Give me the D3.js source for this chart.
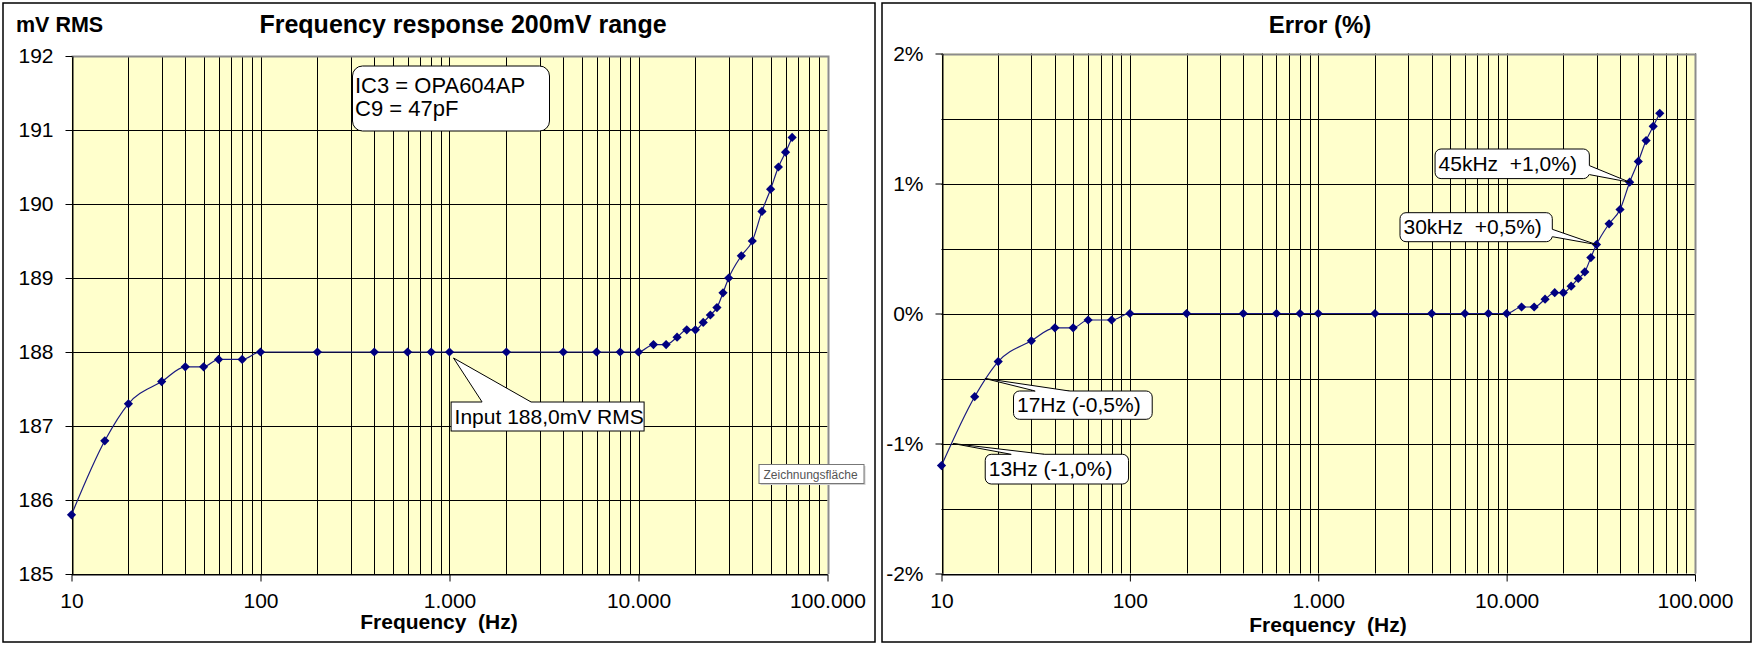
<!DOCTYPE html>
<html><head><meta charset="utf-8">
<script src="https://cdn.jsdelivr.net/npm/d3@7"></script>
<style>
body{margin:0;background:#fff;}
svg{display:block;}
text{font-family:"Liberation Sans",Arial,sans-serif;fill:#000;}
</style></head><body>
<svg id="c" width="1754" height="648"></svg>
<script>
// ---------- DATA ----------
const freqs = [10,15,20,30,40,50,60,80,100,200,400,600,800,1000,2000,4000,6000,8000,10000,
  12000,14000,16000,18000,20000,22000,24000,26000,28000,30000,35000,40000,45000,50000,55000,60000,65000];
const mvRms = [185.8,186.8,187.3,187.6,187.8,187.8,187.9,187.9,
  188.0,188.0,188.0,188.0,188.0,188.0,188.0,188.0,188.0,188.0,188.0,
  188.1,188.1,188.2,188.3,188.3,188.4,188.5,188.6,188.8,
  189.0,189.3,189.5,189.9,190.2,190.5,190.7,190.9];
const errorPct = [-1.17,-0.64,-0.37,-0.21,-0.11,-0.11,-0.05,-0.05,
  0,0,0,0,0,0,0,0,0,0,0,
  0.05,0.05,0.11,0.16,0.16,0.21,0.27,0.32,0.43,
  0.53,0.69,0.80,1.01,1.17,1.33,1.44,1.54];
const xTickValues = [10,100,1000,10000,100000];
const xTickLabels = ["10","100","1.000","10.000","100.000"];
const yLeftTicks = [185,186,187,188,189,190,191,192];
const yLeftLabels = ["185","186","187","188","189","190","191","192"];
const yLeftGrid = [185,186,187,188,189,190,191,192];
const yRightTicks = [-2,-1,0,1,2];
const yRightLabels = ["-2%","-1%","0%","1%","2%"];
const yRightGrid = [-2,-1.5,-1,-0.5,0,0.5,1,1.5,2];
const leftTitle = "Frequency response 200mV range";
const rightTitle = "Error (%)";
const yLeftUnit = "mV RMS";
const xTitle = "Frequency  (Hz)";
const infoLines = ["IC3 = OPA604AP","C9 = 47pF"];

// ---------- LAYOUT ----------
const svg = d3.select("#c");
const crisp = v => Math.round(v) + 0.5;

const xL = d3.scaleLog().domain([10,100000]).range([71.5,827.5]);
const yL = d3.scaleLinear().domain([185,192]).range([574,56]);
const xR = d3.scaleLog().domain([10,100000]).range([941.5,1695]);
const yR = d3.scaleLinear().domain([-2,2]).range([573.5,53.5]);

// panel borders
svg.append("rect").attr("x",3).attr("y",3).attr("width",872).attr("height",639)
  .attr("fill","#fff").attr("stroke","#000").attr("stroke-width",1.5);
svg.append("rect").attr("x",882).attr("y",3).attr("width",869).attr("height",639)
  .attr("fill","#fff").attr("stroke","#000").attr("stroke-width",1.5);

function drawPanel(x, y, yTicks, yLabels, yGrid, values) {
  const g = svg.append("g");
  const [x0,x1] = x.range(), [yb,yt] = y.range();
  g.append("rect").attr("x",x0).attr("y",yt).attr("width",x1-x0).attr("height",yb-yt).attr("fill","#FFFFCC");
  // vertical grid
  g.selectAll(".vg").data(x.ticks()).join("line")
    .attr("x1",d=>crisp(x(d))).attr("x2",d=>crisp(x(d)))
    .attr("y1",yt).attr("y2",yb).attr("stroke","#000").attr("stroke-width",1);
  // horizontal grid
  g.selectAll(".hg").data(yGrid).join("line")
    .attr("x1",x0).attr("x2",x1)
    .attr("y1",d=>crisp(y(d))).attr("y2",d=>crisp(y(d))).attr("stroke","#000").attr("stroke-width",1);
  // plot border (grey)
  g.append("path").attr("d",`M${x0},${crisp(yt)}H${crisp(x1)}V${yb}`)
    .attr("fill","none").attr("stroke","#8c8c8c").attr("stroke-width",2);
  // y axis
  const ya = g.append("g").attr("transform",`translate(${crisp(x0)},0)`)
    .call(d3.axisLeft(y).tickValues(yTicks).tickFormat((d,i)=>yLabels[i]).tickSize(7).tickSizeOuter(0).tickPadding(12));
  // x axis
  const xa = g.append("g").attr("transform",`translate(0,${crisp(yb)})`)
    .call(d3.axisBottom(x).tickValues(xTickValues).tickFormat((d,i)=>xTickLabels[i]).tickSize(7).tickSizeOuter(0).tickPadding(12));
  [ya,xa].forEach(a=>{
    a.select(".domain").attr("stroke","#000").attr("stroke-width",1);
    a.selectAll(".tick line").attr("stroke","#000");
    a.selectAll(".tick text").attr("font-size",21).attr("font-family","'Liberation Sans',Arial,sans-serif").attr("fill","#000");
  });
  // line
  const line = d3.line().x((d,i)=>x(freqs[i])).y(d=>y(d)).curve(d3.curveMonotoneX);
  g.append("path").datum(values).attr("d",line).attr("fill","none")
    .attr("stroke","#1a1a80").attr("stroke-width",1.2);
  // markers
  g.selectAll(".mk").data(values).join("path")
    .attr("transform",(d,i)=>`translate(${x(freqs[i])},${y(d)})`)
    .attr("d","M0,-4.6L4.6,0L0,4.6L-4.6,0Z").attr("fill","#000080");
  return g;
}
drawPanel(xL,yL,yLeftTicks,yLeftLabels,yLeftGrid,mvRms);
drawPanel(xR,yR,yRightTicks,yRightLabels,yRightGrid,errorPct);

// titles
svg.append("text").attr("x",463).attr("y",33).attr("text-anchor","middle")
  .attr("font-size",25).attr("font-weight","bold").text(leftTitle);
svg.append("text").attr("x",1320).attr("y",33).attr("text-anchor","middle")
  .attr("font-size",24).attr("font-weight","bold").text(rightTitle);
svg.append("text").attr("x",16).attr("y",32).attr("font-size",21.5).attr("font-weight","bold").text(yLeftUnit);
svg.append("text").attr("x",439).attr("y",629).attr("text-anchor","middle").attr("xml:space","preserve")
  .style("white-space","pre").attr("font-size",21).attr("font-weight","bold").text(xTitle);
svg.append("text").attr("x",1328).attr("y",632).attr("text-anchor","middle").attr("xml:space","preserve")
  .style("white-space","pre").attr("font-size",21).attr("font-weight","bold").text(xTitle);

// info box (rounded)
const ib = {x: xL.range()[0]+281, y: yL.range()[1]+10, w:197, h:65};
svg.append("rect").attr("x",ib.x).attr("y",ib.y).attr("width",ib.w).attr("height",ib.h)
  .attr("rx",10).attr("fill","#fff").attr("stroke","#000").attr("stroke-width",1);
infoLines.forEach((t,i)=>svg.append("text").attr("x",ib.x+2.5).attr("y",ib.y+27+i*23)
  .attr("font-size",22).attr("fill","#000").text(t));

// callouts
const callouts = [
  {sx:xL, sy:yL, f:1000, v:188, text:"Input 188,0mV RMS", tdx:4, tdy:6, bx:1.6, by:50, w:193, h:29, r:0, side:"top", b1:31, b2:80},
  {sx:xR, sy:yR, f:45000, v:1.01, text:"45kHz  +1,0%)", tdx:0, tdy:0, bx:-194.6, by:-33.2, w:154.3, h:29.6, r:6, side:"right", b1:16.6, b2:25.6},
  {sx:xR, sy:yR, f:30000, v:0.53, text:"30kHz  +0,5%)", tdx:0, tdy:0, bx:-196.5, by:-31.9, w:152.3, h:29, r:6, side:"right", b1:16.6, b2:24},
  {sx:xR, sy:yR, f:17, v:-0.5, text:"17Hz (-0,5%)", tdx:0, tdy:0, bx:28.6, by:12.5, w:138.7, h:28.3, r:6, side:"top", b1:21.7, b2:56},
  {sx:xR, sy:yR, f:11.5, v:-1, text:"13Hz (-1,0%)", tdx:0, tdy:0, bx:32.3, by:10.8, w:143.3, h:29.7, r:6, side:"top", b1:26, b2:59}
];
callouts.forEach(c=>{
  const px = c.sx(c.f), py = c.sy(c.v);
  const tx = px + c.tdx, ty = py + c.tdy;
  const bx = px + c.bx, by = py + c.by;
  const g = svg.append("g");
  g.append("rect").attr("x",bx).attr("y",by).attr("width",c.w).attr("height",c.h)
    .attr("rx",c.r).attr("fill","#fff").attr("stroke","#000").attr("stroke-width",1);
  let p1,p2,q1,q2;
  if (c.side==="top") { p1=[bx+c.b1,by]; p2=[bx+c.b2,by]; q1=[p1[0],by+2]; q2=[p2[0],by+2]; }
  else { p1=[bx+c.w,by+c.b1]; p2=[bx+c.w,by+c.b2]; q1=[p1[0]-2,p1[1]]; q2=[p2[0]-2,p2[1]]; }
  g.append("path").attr("d",`M${tx},${ty}L${p1}L${q1}L${q2}L${p2}Z`).attr("fill","#fff");
  g.append("path").attr("d",`M${p1}L${tx},${ty}L${p2}`).attr("fill","none").attr("stroke","#000").attr("stroke-width",1);
  g.append("text").attr("x",bx+3.5).attr("y",by+c.h/2+7).attr("xml:space","preserve").style("white-space","pre")
    .attr("font-size",21).text(c.text);
});

// "Zeichnungsfläche" tooltip
const tt = {x: xL.range()[1]-69, y: yL(186)-36, w:105, h:19};
svg.append("rect").attr("x",tt.x+2).attr("y",tt.y+2).attr("width",tt.w).attr("height",tt.h).attr("fill","#d0d0d0");
svg.append("rect").attr("x",tt.x+0.5).attr("y",tt.y+0.5).attr("width",tt.w).attr("height",tt.h)
  .attr("fill","#fff").attr("stroke","#777").attr("stroke-width",1);
svg.append("text").attr("x",tt.x+5).attr("y",tt.y+14.5).attr("font-size",12)
  .attr("font-family","'Open Sans','Noto Sans',sans-serif").style("fill","#555").text("Zeichnungsfläche");
</script>
</body></html>
